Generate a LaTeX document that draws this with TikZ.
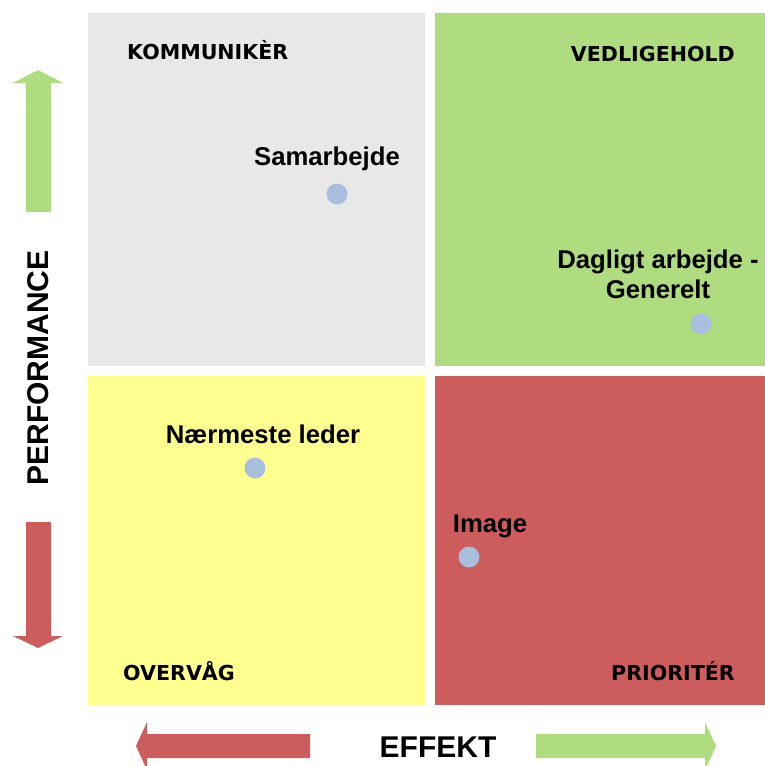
\documentclass[tikz,border=0pt]{standalone}
\usepackage{fontspec}
\setmainfont{Liberation Sans}
\newfontfamily\verdfont{DejaVu Sans}
\usetikzlibrary{shapes,arrows}

\definecolor{qgray}{HTML}{E8E8E8}
\definecolor{qgreen}{HTML}{B0DC80}
\definecolor{qyellow}{HTML}{FFFF90}
\definecolor{qred}{HTML}{CD5C5C}
\definecolor{qdot}{HTML}{A8BEDC}

\begin{document}
\begin{tikzpicture}[x=1pt,y=-1pt,
        dot/.style={circle,fill=qdot,inner sep=0pt,minimum size=21pt},
        pointlabel/.style={inner sep=0pt,font=\fontsize{25.7}{30}\selectfont\bfseries},
        quadlabel/.style={inner sep=0pt,font=\verdfont\fontsize{20.6}{23}\selectfont\bfseries},
        axislabel/.style={inner sep=0pt,font=\fontsize{30}{34}\selectfont\bfseries}]
        \useasboundingbox (0,0) rectangle (765,766);

        % de fire kvadranter
        \fill[qgray] (88,13) rectangle (425,366);
        \fill[qgreen] (435,13) rectangle (765,366);
        \fill[qyellow] (88,376) rectangle (425,705);
        \fill[qred] (435,376) rectangle (765,705);

        % overskrifter i kvadranterne
        \node[quadlabel,anchor=base west] (komm) at (127,59) {KOMMUNIKÈR};
        \node[quadlabel,anchor=base east] (vedl) at (735,61) {VEDLIGEHOLD};
        \node[quadlabel,anchor=base west] (overv) at (123,680) {OVERVÅG};
        \node[quadlabel,anchor=base east] (prior) at (735,680) {PRIORITÉR};

        % punkter
        \node[dot] (samarb) at (337,194) {};
        \node[dot] (daglig) at (701,324) {};
        \node[dot] (leder) at (255,468) {};
        \node[dot] (image) at (469,557) {};

        \node[pointlabel,anchor=base] (samarbtxt) at (327,165) {Samarbejde};
        \node[pointlabel,anchor=base,align=center] (dagligtxt) at (658,298) {Dagligt arbejde -\\Generelt};
        \node[pointlabel,anchor=base] (ledertxt) at (263,443) {Nærmeste leder};
        \node[pointlabel,anchor=base] (imagetxt) at (490,532) {Image};

        % pile langs akserne
        \fill[qgreen] (26,212) -- (26,83) -- (13,83) -- (38,70) -- (63,83) -- (51,83) -- (51,212) -- cycle;
        \fill[qred] (26,522) -- (26,636) -- (13,636) -- (38,648) -- (63,636) -- (51,636) -- (51,522) -- cycle;
        \fill[qred] (310,734) -- (147,734) -- (147,722) -- (136,746) -- (147,770) -- (147,758) -- (310,758) -- cycle;
        \fill[qgreen] (536,734) -- (705,734) -- (705,722) -- (716,746) -- (705,770) -- (705,758) -- (536,758) -- cycle;

        % aksetitler
        \node[axislabel,anchor=base,rotate=90] (perf) at (48,368) {PERFORMANCE};
        \node[axislabel,anchor=base] (effekt) at (438,757) {EFFEKT};
    \end{tikzpicture}
\end{document}
